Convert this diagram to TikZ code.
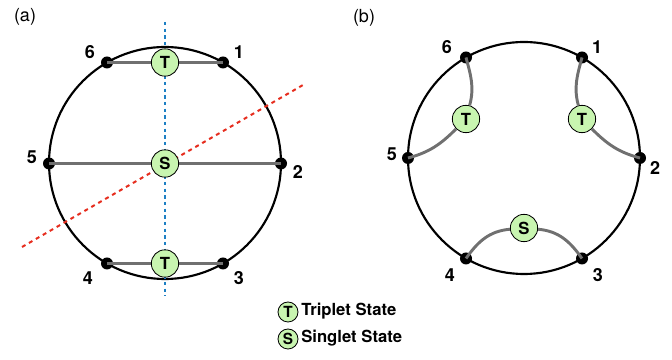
\documentclass[tikz,border=0pt]{standalone}
\usepackage{fontspec}
\setmainfont{TeX Gyre Heros}
\usetikzlibrary{calc}

\definecolor{stategreen}{RGB}{200,245,176}
\definecolor{linkgray}{RGB}{112,112,112}
\definecolor{axisblue}{RGB}{30,128,196}
\definecolor{axisred}{RGB}{230,45,30}

\tikzset{
  site/.style={circle, fill=black, inner sep=0pt, minimum size=9pt},
  state/.style={circle, draw, line width=0.6pt, fill=stategreen, inner sep=0pt,
    minimum size=20.5pt, font=\fontsize{12.5}{12.5}\selectfont\bfseries},
  smallstate/.style={state, minimum size=15pt, font=\fontsize{11.5}{11.5}\selectfont\bfseries},
  link/.style={draw=linkgray, line width=2.2pt},
  ring/.style={draw, line width=1.6pt},
  num/.style={font=\fontsize{13.5}{13.5}\selectfont\bfseries},
  panel/.style={font=\fontsize{13.5}{13.5}\selectfont},
  legendtext/.style={font=\fontsize{12.5}{12.5}\selectfont\bfseries, anchor=west, inner sep=0pt},
}

\begin{document}
\begin{tikzpicture}[x=0.75pt, y=0.75pt]
  \useasboundingbox (0,0) rectangle (672,360);

  % Panel labels
  \node[panel] (pa) at (25,343) {(a)};
  \node[panel] (pb) at (364,342) {(b)};

  % ---------------- (a) ----------------
  \coordinate (ca) at (165,197);
  \draw[ring] (ca) circle (116);

  % symmetry axes
  \coordinate (ba) at (165,338);
  \coordinate (bb) at (165,64);
  \coordinate (ra) at (22,113);
  \coordinate (rb) at (303,275);
  \draw[axisblue, line width=1.5pt, dash pattern=on 2.5pt off 2.5pt] (ba) -- (bb);
  \draw[axisred, line width=1.5pt, dash pattern=on 3pt off 3pt] (ra) -- (rb);

  % sites
  \node (a1) at (223,297.5) [site] {};
  \node (a2) at (281,196.5) [site] {};
  \node (a3) at (223,96.5) [site] {};
  \node (a4) at (107,96.5) [site] {};
  \node (a5) at (49,196.5) [site] {};
  \node (a6) at (107,297.5) [site] {};

  \node (na1) at (239,308) [num] {1};
  \node (na2) at (298,188) [num] {2};
  \node (na3) at (239,82) [num] {3};
  \node (na4) at (88,82) [num] {4};
  \node (na5) at (32,203) [num] {5};
  \node (na6) at (90,308) [num] {6};

  % bonds
  \draw[link] (a6.center) -- (a1.center);
  \draw[link] (a5.center) -- (a2.center);
  \draw[link] (a4.center) -- (a3.center);

  \node (ta1) at (165,297.5) [state] {T};
  \node (sa) at (165,196.5) [state] {S};
  \node (ta2) at (165,96.5) [state] {T};

  % ---------------- (b) ----------------
  \coordinate (cb) at (524,202);
  \draw[ring] (cb) circle (116);

  \node (b1) at (582,302.5) [site] {};
  \node (b2) at (640,202) [site] {};
  \node (b3) at (582,101.5) [site] {};
  \node (b4) at (466,101.5) [site] {};
  \node (b5) at (408,202) [site] {};
  \node (b6) at (466,302.5) [site] {};

  \node (nb1) at (597,313) [num] {1};
  \node (nb2) at (655,192) [num] {2};
  \node (nb3) at (598,85) [num] {3};
  \node (nb4) at (450,85) [num] {4};
  \node (nb5) at (392,206) [num] {5};
  \node (nb6) at (447,313) [num] {6};

  \node (tb1) at (466,241) [state] {T};
  \node (tb2) at (582,241) [state] {T};
  \node (sb) at (524,132) [state] {S};

  % bonds
  \draw[link] (b6.center) to[out=-75, in=75] (tb1);
  \draw[link] (b5.center) to[out=15, in=-135] (tb1);
  \draw[link] (b1.center) to[out=-105, in=105] (tb2);
  \draw[link] (b2.center) to[out=165, in=-45] (tb2);
  \draw[link] (b4.center) to[out=55, in=185] (sb);
  \draw[link] (sb) to[out=-5, in=125] (b3.center);

  % Legend
  \node (kt) at (288,48) [smallstate] {T};
  \node (ks) at (288,21) [smallstate] {S};
  \node (kt-text) at (301,49) [legendtext] {Triplet State};
  \node (ks-text) at (301,22) [legendtext] {Singlet State};
\end{tikzpicture}
\end{document}
